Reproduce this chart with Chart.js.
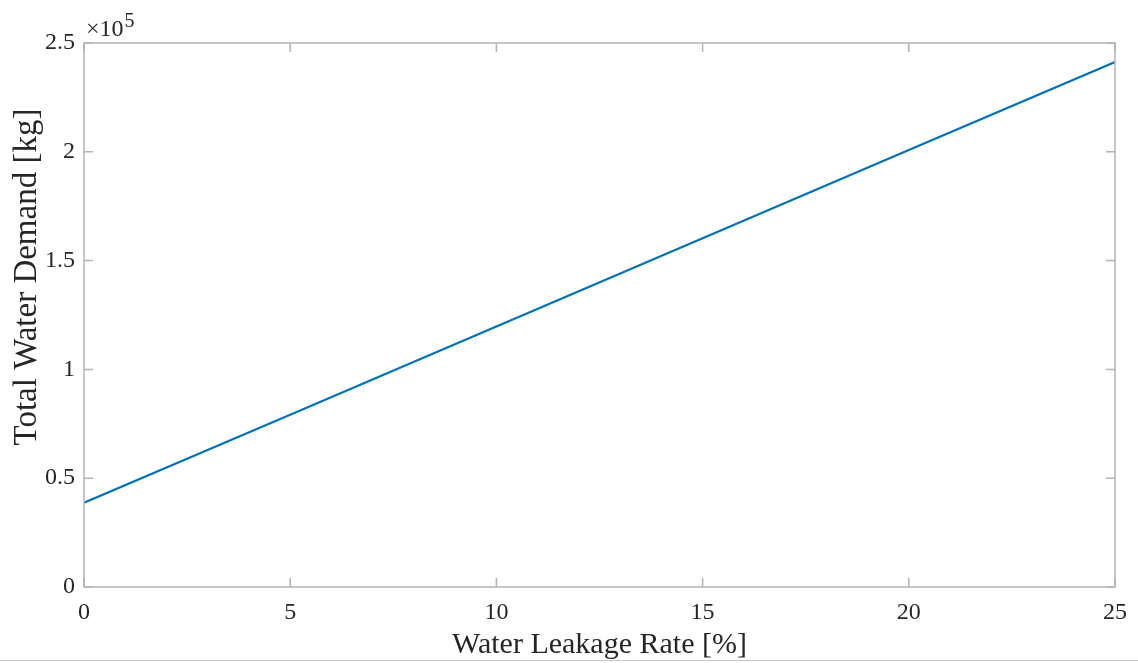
<!DOCTYPE html>
<html>
<head>
<meta charset="utf-8">
<script src="https://cdn.jsdelivr.net/npm/chart.js@4.4.1/dist/chart.umd.min.js"></script>
<style>
    html, body { margin: 0; padding: 0; background: #fff; }
    #wrap { width: 1138px; height: 663px; position: relative; }
    #bottomRule { position: absolute; left: 0; right: 0; top: 660px; height: 1px; background: #c8c8c8; }
</style>
</head>
<body>
<div id="wrap">
    <canvas id="demandChart" width="1138" height="663"></canvas>
    <div id="bottomRule"></div>
</div>
<script>
// leakage rate [%] and total demand [kg]
const leakageRates = [0, 5, 10, 15, 20, 25];
const waterDemand = [38700, 79200, 119700, 160300, 200800, 241300];
const xTicks = [0, 5, 10, 15, 20, 25];
const yTicks = [0, 50000, 100000, 150000, 200000, 250000];
const yTitle = 'Total Water Demand [kg]';

const axisGray = '#b4b4b4';
const textColor = '#262626';
const serif = '"Liberation Serif", "DejaVu Serif", serif';

// MATLAB-like box with inward ticks on all four sides, plus the x10^5 multiplier
const boxTicks = {
    id: 'boxTicks',
    afterDraw(chart) {
        const { ctx, chartArea: a, scales } = chart;
        const len = 9;
        ctx.save();
        ctx.strokeStyle = axisGray;
        ctx.lineWidth = 1.5;
        ctx.strokeRect(a.left, a.top, a.right - a.left, a.bottom - a.top);
        ctx.beginPath();
        xTicks.forEach(v => {
            const px = scales.x.getPixelForValue(v);
            ctx.moveTo(px, a.bottom); ctx.lineTo(px, a.bottom - len);
            ctx.moveTo(px, a.top); ctx.lineTo(px, a.top + len);
        });
        yTicks.forEach(v => {
            const py = scales.y.getPixelForValue(v);
            ctx.moveTo(a.left, py); ctx.lineTo(a.left + len, py);
            ctx.moveTo(a.right, py); ctx.lineTo(a.right - len, py);
        });
        ctx.stroke();

        ctx.fillStyle = textColor;
        ctx.textBaseline = 'alphabetic';
        ctx.textAlign = 'left';
        ctx.font = '24px ' + serif;
        ctx.fillText('\u00d710', a.left + 2, a.top - 7);
        const w = ctx.measureText('\u00d710').width;
        ctx.font = '20px ' + serif;
        ctx.fillText('5', a.left + 3 + w, a.top - 16);

        // y title sits a bit above the axis middle in the original
        ctx.translate(27, 277);
        ctx.rotate(-Math.PI / 2);
        ctx.textAlign = 'center';
        ctx.textBaseline = 'middle';
        ctx.font = '33px ' + serif;
        ctx.fillText(yTitle, 0, 0);
        ctx.restore();
    }
};

new Chart(document.getElementById('demandChart').getContext('2d'), {
    type: 'line',
    data: {
        datasets: [{
            data: leakageRates.map((x, i) => ({ x: x, y: waterDemand[i] })),
            borderColor: '#0072BD',
            borderWidth: 2.2,
            pointRadius: 0,
            tension: 0,
            fill: false
        }]
    },
    options: {
        responsive: false,
        animation: false,
        layout: { padding: { top: 43, right: 21, left: 0, bottom: 0 } },
        plugins: {
            legend: { display: false },
            tooltip: { enabled: false }
        },
        scales: {
            x: {
                type: 'linear',
                min: 0,
                max: 25,
                afterBuildTicks: scale => { scale.ticks = xTicks.map(v => ({ value: v })); },
                afterFit: scale => { scale.height = 76; },
                grid: { display: false, drawTicks: false },
                border: { display: false },
                ticks: {
                    color: textColor,
                    padding: 11,
                    maxRotation: 0,
                    font: { family: serif, size: 24 }
                },
                title: {
                    display: true,
                    text: 'Water Leakage Rate [%]',
                    color: textColor,
                    padding: { top: 0, bottom: 0 },
                    font: { family: serif, size: 30 }
                }
            },
            y: {
                type: 'linear',
                min: 0,
                max: 250000,
                afterBuildTicks: scale => { scale.ticks = yTicks.map(v => ({ value: v })); },
                afterFit: scale => { scale.width = 84; },
                grid: { display: false, drawTicks: false },
                border: { display: false },
                ticks: {
                    color: textColor,
                    padding: 9,
                    font: { family: serif, size: 24 },
                    callback: v => String(v / 100000)
                },
                title: { display: false }
            }
        }
    },
    plugins: [boxTicks]
});
</script>
</body>
</html>
